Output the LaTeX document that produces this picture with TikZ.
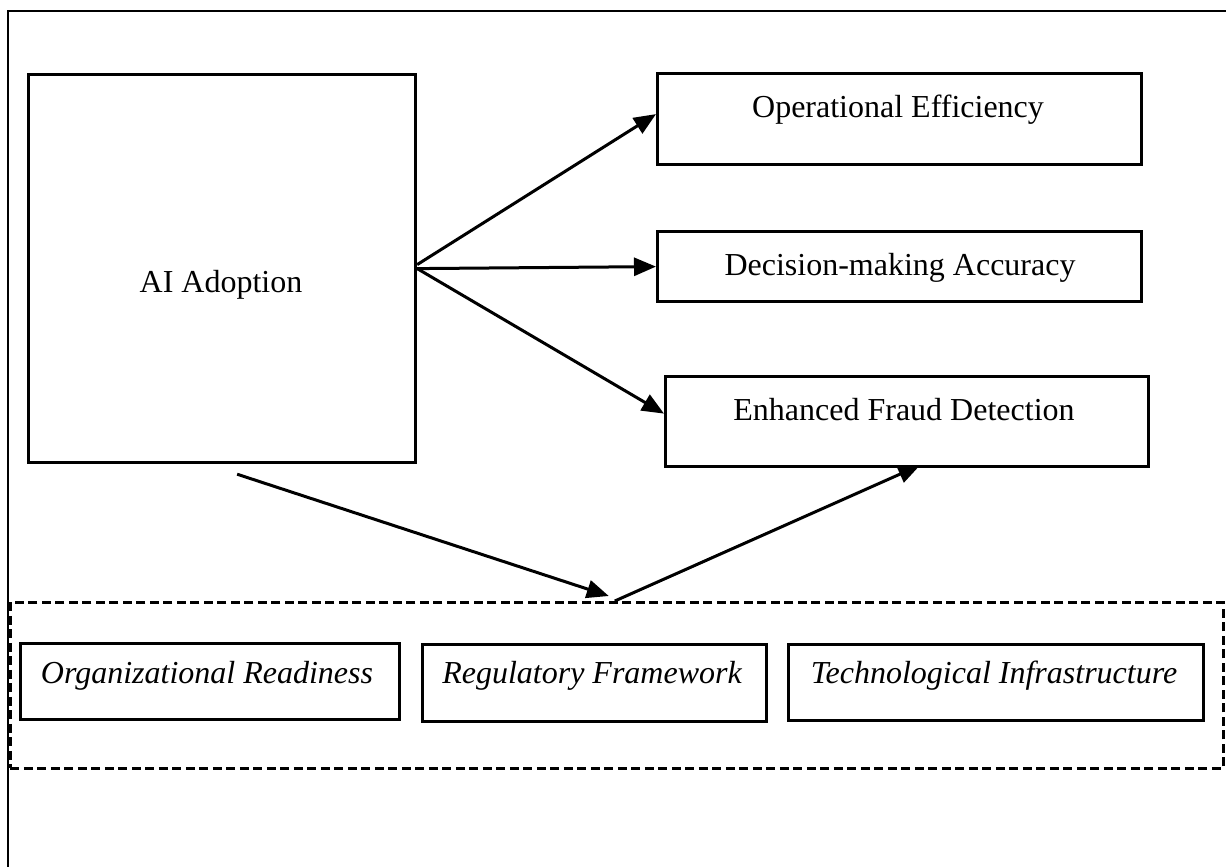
\documentclass[tikz,border=0pt]{standalone}
\usepackage{fontspec}
\setmainfont{Liberation Serif}
\usetikzlibrary{arrows.meta}
\begin{document}
\begin{tikzpicture}[x=1pt,y=-1pt,
  box/.style={draw=black,line width=3.2pt,rectangle,inner sep=0pt,anchor=north west},
  lbl/.style={anchor=base,inner sep=0pt,font=\fontsize{32}{38}\selectfont},
  ilbl/.style={lbl,font=\fontsize{32}{38}\selectfont\itshape},
  link/.style={line width=3pt,-{Triangle[length=22pt,width=18pt]}},
  groupbox/.style={draw=black,line width=2.6pt,dash pattern=on 9pt off 4.5pt,rectangle,inner sep=0pt,anchor=north west}
]
\useasboundingbox (0,0) rectangle (1226,867);

% frame
\draw[line width=2.8pt] (8,867) -- (8,11) -- (1226,11);

% independent variable
\node[box,minimum width=387pt,minimum height=388pt] (ai) at (27,73) {};
\node[lbl] (ait) at (221,292) {AI Adoption};

% outcomes
\node[box,minimum width=484pt,minimum height=91pt] (oe) at (656,72) {};
\node[lbl] (oet) at (898,117) {Operational Efficiency};
\node[box,minimum width=484pt,minimum height=70pt] (dm) at (656,230) {};
\node[lbl] (dmt) at (900,275) {Decision-making Accuracy};
\node[box,minimum width=483pt,minimum height=90pt] (ef) at (664,375) {};
\node[lbl] (eft) at (904,420) {Enhanced Fraud Detection};

% moderating factors
\node[groupbox,minimum width=1213pt,minimum height=166pt] (mod) at (9,601) {};
\node[box,minimum width=379pt,minimum height=76pt] (org) at (19,642) {};
\node[ilbl] (orgt) at (207,683) {Organizational Readiness};
\node[box,minimum width=344pt,minimum height=77pt] (reg) at (421,643) {};
\node[ilbl] (regt) at (592,683) {Regulatory Framework};
\node[box,minimum width=415pt,minimum height=76pt] (tec) at (787,643) {};
\node[ilbl] (tect) at (994,683) {Technological Infrastructure};

% direct effects
\draw[link] ([yshift=4pt]ai.east) -- ([yshift=5pt]oe.west);
\draw[link] (ai.east) -- (dm.west);
\draw[link] (ai.east) -- ([yshift=8pt]ef.west);

% moderated path
\draw[link] ([xshift=15pt,yshift=-10pt]ai.south) -- ([xshift=-8pt,yshift=5pt]mod.north);
\draw[link] ([xshift=-2pt]mod.north) -- ([xshift=13pt,yshift=3pt]ef.south);
\end{tikzpicture}
\end{document}
